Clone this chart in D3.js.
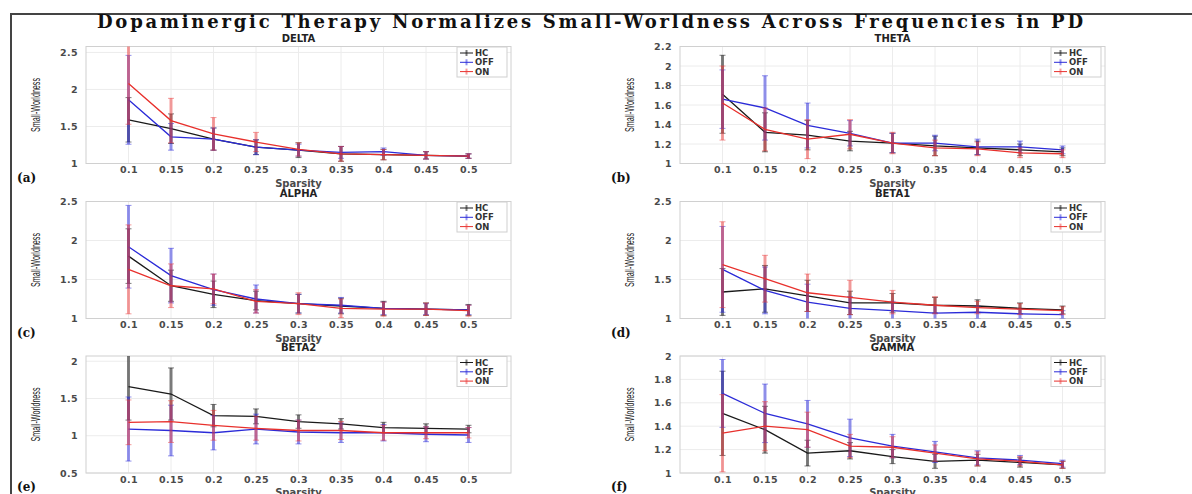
<!DOCTYPE html>
<html>
<head>
<meta charset="utf-8">
<script src="https://cdn.jsdelivr.net/npm/d3@7"></script>
<style>
  body { margin: 0; background: #fff; }
  svg { display: block; }
</style>
</head>
<body>
<div id="chart"></div>
<script>
'use strict'

////////////////////////////////////
//////////// data //////////////////
////////////////////////////////////

const sparsity = [0.1, 0.15, 0.2, 0.25, 0.3, 0.35, 0.4, 0.45, 0.5]
const bands = ["DELTA", "THETA", "ALPHA", "BETA1", "BETA2", "GAMMA"]
const panelLabels = ["(a)", "(b)", "(c)", "(d)", "(e)", "(f)"]
const groups = ["HC", "OFF", "ON"]

// mean small-worldness per band (rows) and sparsity (columns)
const hcMean = [
    [1.59, 1.47, 1.33, 1.22, 1.18, 1.13, 1.12, 1.11, 1.10],
    [1.71, 1.32, 1.29, 1.23, 1.21, 1.18, 1.16, 1.14, 1.12],
    [1.80, 1.42, 1.31, 1.23, 1.19, 1.16, 1.13, 1.12, 1.11],
    [1.34, 1.38, 1.29, 1.20, 1.20, 1.17, 1.16, 1.13, 1.11],
    [1.66, 1.56, 1.27, 1.26, 1.19, 1.16, 1.11, 1.10, 1.09],
    [1.51, 1.37, 1.17, 1.19, 1.14, 1.10, 1.11, 1.09, 1.07]
]
const offMean = [
    [1.86, 1.36, 1.33, 1.22, 1.18, 1.15, 1.16, 1.11, 1.10],
    [1.66, 1.57, 1.39, 1.31, 1.21, 1.21, 1.17, 1.17, 1.14],
    [1.92, 1.55, 1.37, 1.25, 1.19, 1.17, 1.13, 1.12, 1.11],
    [1.63, 1.36, 1.21, 1.13, 1.10, 1.07, 1.08, 1.06, 1.05],
    [1.09, 1.07, 1.04, 1.09, 1.05, 1.04, 1.04, 1.02, 1.01],
    [1.68, 1.51, 1.42, 1.30, 1.23, 1.18, 1.13, 1.11, 1.08]
]
const onMean = [
    [2.08, 1.58, 1.40, 1.29, 1.19, 1.13, 1.12, 1.11, 1.10],
    [1.62, 1.35, 1.25, 1.30, 1.21, 1.16, 1.15, 1.11, 1.10],
    [1.63, 1.42, 1.38, 1.22, 1.19, 1.13, 1.12, 1.12, 1.10],
    [1.69, 1.51, 1.33, 1.27, 1.21, 1.17, 1.14, 1.12, 1.10],
    [1.18, 1.19, 1.14, 1.10, 1.07, 1.07, 1.04, 1.04, 1.04],
    [1.34, 1.40, 1.37, 1.23, 1.22, 1.17, 1.12, 1.10, 1.07]
]

// standard deviations (error bars)
const hcSD = [
    [0.30, 0.20, 0.15, 0.10, 0.10, 0.10, 0.07, 0.05, 0.03],
    [0.40, 0.20, 0.15, 0.10, 0.10, 0.10, 0.07, 0.06, 0.04],
    [0.35, 0.20, 0.17, 0.12, 0.12, 0.10, 0.09, 0.08, 0.07],
    [0.30, 0.30, 0.20, 0.15, 0.12, 0.10, 0.08, 0.07, 0.05],
    [0.45, 0.35, 0.15, 0.10, 0.09, 0.07, 0.07, 0.06, 0.05],
    [0.36, 0.20, 0.11, 0.07, 0.06, 0.06, 0.05, 0.04, 0.03]
]
const offSD = [
    [0.60, 0.18, 0.15, 0.10, 0.08, 0.08, 0.05, 0.05, 0.03],
    [0.30, 0.33, 0.23, 0.13, 0.10, 0.08, 0.08, 0.06, 0.04],
    [0.53, 0.35, 0.20, 0.18, 0.12, 0.10, 0.08, 0.07, 0.06],
    [0.55, 0.30, 0.23, 0.15, 0.12, 0.10, 0.08, 0.06, 0.05],
    [0.43, 0.34, 0.23, 0.20, 0.16, 0.13, 0.11, 0.10, 0.10],
    [0.29, 0.25, 0.20, 0.16, 0.10, 0.09, 0.06, 0.04, 0.03]
]
const onSD = [
    [0.55, 0.30, 0.22, 0.13, 0.09, 0.10, 0.07, 0.05, 0.03],
    [0.38, 0.22, 0.20, 0.15, 0.11, 0.08, 0.07, 0.05, 0.04],
    [0.57, 0.28, 0.19, 0.15, 0.14, 0.12, 0.09, 0.08, 0.07],
    [0.55, 0.30, 0.24, 0.22, 0.15, 0.11, 0.08, 0.07, 0.05],
    [0.30, 0.28, 0.20, 0.16, 0.14, 0.12, 0.10, 0.08, 0.07],
    [0.33, 0.21, 0.15, 0.10, 0.09, 0.07, 0.06, 0.04, 0.03]
]

// y axis per panel
const yMin = [1, 1, 1, 1, 0.5, 1]
const yMax = [2.58, 2.2, 2.5, 2.5, 2.07, 2]
const yTicks = [
    [1, 1.5, 2, 2.5],
    [1, 1.2, 1.4, 1.6, 1.8, 2, 2.2],
    [1, 1.5, 2, 2.5],
    [1, 1.5, 2, 2.5],
    [0.5, 1, 1.5, 2],
    [1, 1.2, 1.4, 1.6, 1.8, 2]
]

////////////////////////////////////
//////////// svg setup /////////////
////////////////////////////////////

const svgWidth = 1192
const svgHeight = 494

const svg = d3.select('#chart')
    .append('svg')
    .attr('width', svgWidth)
    .attr('height', svgHeight)

// frame lines (top and left)
svg.append('path')
    .attr('d', `M11,${svgHeight} L11,14 L${svgWidth},14`)
    .attr('fill', 'none')
    .attr('stroke', '#444')
    .attr('stroke-width', 2)

svg.append('text')
    .attr('x', 97)
    .attr('y', 28)
    .attr('textLength', 986)
    .attr('lengthAdjust', 'spacing')
    .style('font-family', '"DejaVu Serif", serif')
    .style('font-weight', 'bold')
    .style('font-size', '18px')
    .style('fill', '#111')
    .text('Dopaminergic Therapy Normalizes Small-Worldness Across Frequencies in PD')

const colors = {HC: '#1a1a1a', OFF: '#2b2bd8', ON: '#e8302c'}
const errColors = {HC: 'rgba(20,20,20,0.55)', OFF: 'rgba(40,40,220,0.5)', ON: 'rgba(235,60,60,0.5)'}

// panel geometry
const colX = [[86, 511], [680, 1105]]
const rowY = [[46.5, 163.5], [201.5, 318.5], [356, 473]]

const tickFont = sel => sel
    .style('font-family', '"DejaVu Sans", sans-serif')
    .style('font-weight', 'bold')
    .style('font-size', '9.5px')
    .style('letter-spacing', '0.4px')
    .style('fill', '#4a4a4a')

////////////////////////////////////
//////////// panels ////////////////
////////////////////////////////////

bands.forEach((band, i) => {
    const [x0, x1] = colX[i % 2]
    const [y0, y1] = rowY[Math.floor(i / 2)]

    const x = d3.scaleLinear().domain([0.05, 0.55]).range([x0, x1])
    const y = d3.scaleLinear().domain([yMin[i], yMax[i]]).range([y1, y0])

    const g = svg.append('g')

    // grid
    g.selectAll('.vgrid').data(sparsity).join('line')
        .attr('x1', d => x(d)).attr('x2', d => x(d))
        .attr('y1', y0).attr('y2', y1)
        .attr('stroke', '#ececec').attr('stroke-width', 1)
    g.selectAll('.hgrid').data(yTicks[i]).join('line')
        .attr('x1', x0).attr('x2', x1)
        .attr('y1', d => y(d)).attr('y2', d => y(d))
        .attr('stroke', '#ececec').attr('stroke-width', 1)

    // axes (labels only, light box)
    const xAxis = g.append('g')
        .attr('transform', `translate(0,${y1})`)
        .call(d3.axisBottom(x).tickValues(sparsity).tickSize(0).tickPadding(3).tickFormat(d3.format('')))
    const yAxis = g.append('g')
        .attr('transform', `translate(${x0},0)`)
        .call(d3.axisLeft(y).tickValues(yTicks[i]).tickSize(0).tickPadding(8).tickFormat(d3.format('')))
    ;[xAxis, yAxis].forEach(a => {
        a.select('.domain').remove()
        a.selectAll('text').call(tickFont)
    })

    g.append('rect')
        .attr('x', x0).attr('y', y0)
        .attr('width', x1 - x0).attr('height', y1 - y0)
        .attr('fill', 'none').attr('stroke', '#d0d0d0').attr('stroke-width', 1)

    // clip for data
    const clipId = 'clip' + i
    svg.append('clipPath').attr('id', clipId)
        .append('rect').attr('x', x0).attr('y', y0).attr('width', x1 - x0).attr('height', y1 - y0)

    const plot = g.append('g').attr('clip-path', `url(#${clipId})`)

    const means = {HC: hcMean[i], OFF: offMean[i], ON: onMean[i]}
    const sds = {HC: hcSD[i], OFF: offSD[i], ON: onSD[i]}

    groups.forEach(grp => {
        const pts = sparsity.map((s, j) => ({s: s, m: means[grp][j], sd: sds[grp][j]}))

        // error bars
        plot.selectAll('.err' + grp).data(pts).join('line')
            .attr('x1', d => x(d.s)).attr('x2', d => x(d.s))
            .attr('y1', d => y(d.m - d.sd)).attr('y2', d => y(d.m + d.sd))
            .attr('stroke', errColors[grp]).attr('stroke-width', 3)
        plot.selectAll('.capLo' + grp).data(pts).join('line')
            .attr('x1', d => x(d.s) - 3).attr('x2', d => x(d.s) + 3)
            .attr('y1', d => y(d.m - d.sd)).attr('y2', d => y(d.m - d.sd))
            .attr('stroke', errColors[grp]).attr('stroke-width', 1)
        plot.selectAll('.capHi' + grp).data(pts).join('line')
            .attr('x1', d => x(d.s) - 3).attr('x2', d => x(d.s) + 3)
            .attr('y1', d => y(d.m + d.sd)).attr('y2', d => y(d.m + d.sd))
            .attr('stroke', errColors[grp]).attr('stroke-width', 1)

        // mean line
        plot.append('path')
            .datum(pts)
            .attr('d', d3.line().x(d => x(d.s)).y(d => y(d.m)))
            .attr('fill', 'none')
            .attr('stroke', colors[grp])
            .attr('stroke-width', 1.3)
    })

    // legend
    const lw = 50, lh = 30
    const lx = x1 - lw - 4, ly = y0 + 0.5
    const leg = g.append('g')
    leg.append('rect')
        .attr('x', lx).attr('y', ly).attr('width', lw).attr('height', lh)
        .attr('fill', '#fff').attr('stroke', '#cfcfcf').attr('stroke-width', 1)
    groups.forEach((grp, k) => {
        const yy = ly + 6 + k * 9.3
        leg.append('line')
            .attr('x1', lx + 3).attr('x2', lx + 16).attr('y1', yy).attr('y2', yy)
            .attr('stroke', colors[grp]).attr('stroke-width', 1)
        leg.append('line')
            .attr('x1', lx + 9.5).attr('x2', lx + 9.5).attr('y1', yy - 3).attr('y2', yy + 3)
            .attr('stroke', errColors[grp]).attr('stroke-width', 2)
        leg.append('text')
            .attr('x', lx + 18).attr('y', yy + 3)
            .style('font-family', '"DejaVu Sans", sans-serif')
            .style('font-weight', 'bold')
            .style('font-size', '8.5px')
            .style('fill', '#333')
            .text(grp)
    })

    // titles and labels
    g.append('text')
        .attr('x', (x0 + x1) / 2).attr('y', y0 - 5)
        .attr('text-anchor', 'middle')
        .style('font-family', '"DejaVu Sans", sans-serif')
        .style('font-weight', 'bold')
        .style('font-size', '10px')
        .style('fill', '#222')
        .text(band)

    g.append('text')
        .attr('x', (x0 + x1) / 2).attr('y', y1 + 23)
        .attr('text-anchor', 'middle')
        .style('font-family', '"DejaVu Sans", sans-serif')
        .style('font-weight', 'bold')
        .style('font-size', '10px')
        .style('fill', '#4a4a4a')
        .text('Sparsity')

    g.append('text')
        .attr('transform', `translate(${x0 - 46},${(y0 + y1) / 2}) rotate(-90)`)
        .attr('text-anchor', 'middle')
        .attr('textLength', 54)
        .attr('lengthAdjust', 'spacingAndGlyphs')
        .style('font-family', '"Liberation Sans Narrow", "Liberation Sans", sans-serif')
        .style('font-size', '12px')
        .style('fill', '#222')
        .text('Small-Worldness')

    g.append('text')
        .attr('x', x0 - 69).attr('y', y1 + 18)
        .style('font-family', '"DejaVu Serif", serif')
        .style('font-weight', 'bold')
        .style('font-size', '12px')
        .style('fill', '#111')
        .text(panelLabels[i])
})
</script>
</body>
</html>
